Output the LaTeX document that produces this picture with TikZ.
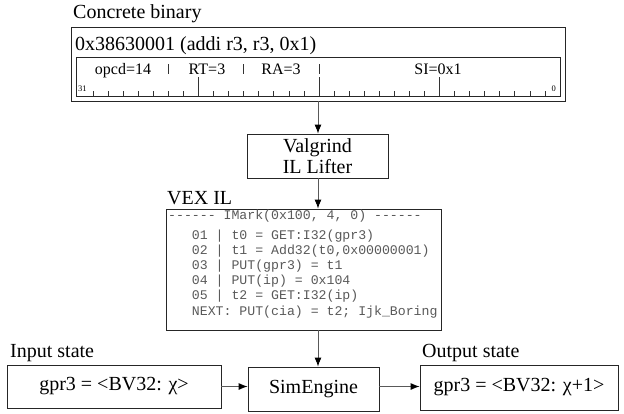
\documentclass[tikz,border=0pt]{standalone}
\usepackage{fontspec}
\setmainfont{Liberation Serif}
\setmonofont{Liberation Mono}
\usetikzlibrary{arrows.meta,calc}
\begin{document}
\begin{tikzpicture}[x=1pt,y=-1pt,
  box/.style={draw=black!85,line width=0.8pt,inner sep=0pt},
  big/.style={font=\fontsize{20}{22}\selectfont},
  mid/.style={font=\fontsize{16}{18}\selectfont},
  tiny/.style={font=\fontsize{8.5}{9}\selectfont,inner sep=0pt},
  code/.style={font=\ttfamily\fontsize{13.2}{15}\selectfont,text=black!65,anchor=base west,inner sep=0pt},
  conn/.style={draw=black!65,line width=0.9pt,-{Latex[length=9pt,width=7pt,black]}},
  tick/.style={draw=black!80,line width=0.6pt}]
\useasboundingbox (0,0) rectangle (624,413);
% Concrete binary
\node[big,anchor=base west,inner sep=0pt] (lcb) at (73,18) {Concrete binary};
\node[box,minimum width=494pt,minimum height=74pt] (bin) at (318,64) {};
\node[big,anchor=base west,inner sep=0pt] (insn) at (75,50) {0x38630001 (addi r3, r3, 0x1)};
\node[box,minimum width=484pt,minimum height=39pt] (rul) at (318,76.5) {};
\foreach \k in {1,...,31}{
  \draw[tick] (78+15.06*\k,91) -- (78+15.06*\k,96);
}
\foreach \k in {8,16,24}{
  \draw[tick] (78+15.06*\k,77) -- (78+15.06*\k,96);
}
\foreach \k in {6,11,16}{
  \draw[tick] (78+15.06*\k,64) -- (78+15.06*\k,74);
}
\node[mid,anchor=base,inner sep=0pt] (f1) at (123,74.5) {opcd=14};
\node[mid,anchor=base,inner sep=0pt] (f2) at (207,74.5) {RT=3};
\node[mid,anchor=base,inner sep=0pt] (f3) at (281,74.5) {RA=3};
\node[mid,anchor=base,inner sep=0pt] (f4) at (438,74.5) {SI=0x1};
\node[tiny,anchor=base west] (b31) at (78,91) {31};
\node[tiny,anchor=base east] (b0) at (556,91) {0};
% Valgrind lifter
\node[box,big,minimum width=141pt,minimum height=44pt,align=center,font=\fontsize{20}{21}\selectfont] (lift) at (317.5,156) {Valgrind\\IL Lifter};
% VEX IL
\node[big,anchor=base west,inner sep=0pt] (lvex) at (167,204) {VEX IL};
\node[box,minimum width=275pt,minimum height=121pt] (vex) at (303.5,269.5) {};
\node[code] (c0) at (168,219) {------ IMark(0x100, 4, 0) ------};
\node[code] (c1) at (168,239) {\ \ \ 01 | t0 = GET:I32(gpr3)};
\node[code] (c2) at (168,254.2) {\ \ \ 02 | t1 = Add32(t0,0x00000001)};
\node[code] (c3) at (168,269.4) {\ \ \ 03 | PUT(gpr3) = t1};
\node[code] (c4) at (168,284.6) {\ \ \ 04 | PUT(ip) = 0x104};
\node[code] (c5) at (168,299.8) {\ \ \ 05 | t2 = GET:I32(ip)};
\node[code] (c6) at (168,315) {\ \ \ NEXT: PUT(cia) = t2; Ijk\_Boring};
% bottom row
\node[big,anchor=base west,inner sep=0pt] (lin) at (10,357) {Input state};
\node[box,big,minimum width=214pt,minimum height=43pt] (in) at (114,386.5) {gpr3 = <BV32: χ>};
\node[box,big,minimum width=131pt,minimum height=44pt] (sim) at (313.5,389) {SimEngine};
\node[big,anchor=base west,inner sep=0pt] (lout) at (422,357) {Output state};
\node[box,big,minimum width=198pt,minimum height=45pt] (out) at (519,387.5) {gpr3 = <BV32: χ+1>};
% connectors
\draw[conn] (bin.south) -- (lift.north -| bin.south);
\draw[conn] (lift.south -| bin.south) -- (vex.north -| bin.south);
\draw[conn] (vex.south -| bin.south) -- (sim.north -| bin.south);
\draw[conn] (in.east) -- (sim.west |- in.east);
\draw[conn] (sim.east |- in.east) -- (out.west |- in.east);
\end{tikzpicture}
\end{document}
